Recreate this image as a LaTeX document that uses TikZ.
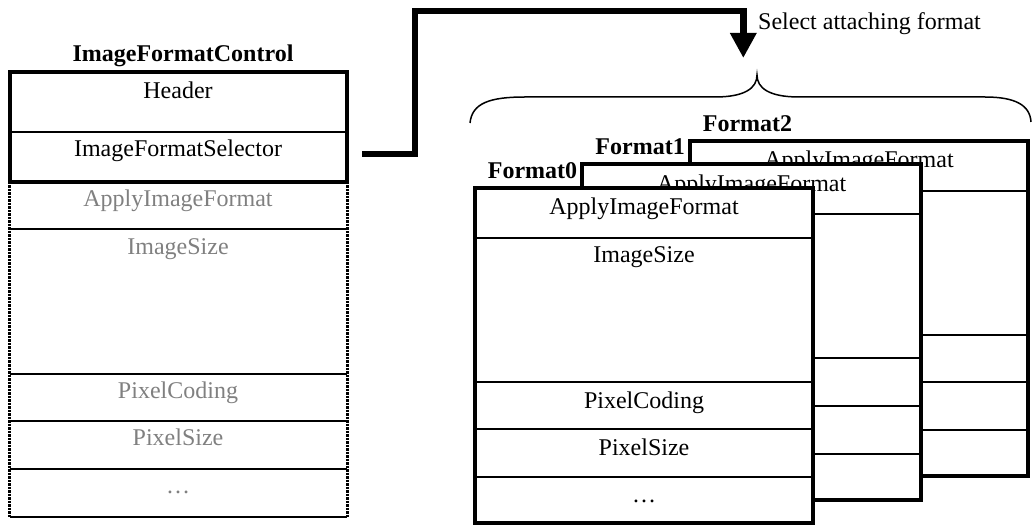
\documentclass[tikz,border=0pt]{standalone}
\usepackage{fontspec}
\setmainfont{Liberation Serif}
\usetikzlibrary{arrows.meta}
\definecolor{txtgray}{RGB}{128,128,128}
\newcommand\fmtbox[3]{%
\begin{scope}[shift={(#1,#2)}]
  \fill[white] (474.7,188) rectangle (813.3,523);
  \foreach \yy in {238,382,429,477} \draw[divider] (474.7,\yy) -- (813.3,\yy);
  \draw[outer] (474.7,188) rectangle (813.3,523);
  \node[txt] (#3a) at (644,215) {ApplyImageFormat};
  \node[txt] (#3b) at (644,263) {ImageSize};
  \node[txt] (#3c) at (644,408) {PixelCoding};
  \node[txt] (#3d) at (644,455) {PixelSize};
  \node[txt] (#3e) at (644,502) {…};
  \node[lbl] (#3l) at (532.5,178.5) {#3};
\end{scope}}
\begin{document}
\begin{tikzpicture}[x=1pt,y=-1pt,
  txt/.style={anchor=base,inner sep=0pt,font=\fontsize{24}{28}\selectfont},
  ghost/.style={txt,text=txtgray},
  lbl/.style={anchor=base,inner sep=0pt,font=\fontsize{24}{28}\selectfont\bfseries},
  outer/.style={line width=4pt},
  divider/.style={line width=2pt},
  dashside/.style={line width=3pt,dash pattern=on 2.5pt off 1pt},
  conn/.style={line width=6.5pt},
  bracestyle/.style={line width=1.5pt}]
\useasboundingbox (0,0) rectangle (1033,526);

% left box
\node[lbl] (ifc) at (183,62) {ImageFormatControl};
\draw[divider] (9.5,132) -- (347,132);
\draw[outer] (9.5,72) rectangle (347,182);
\node[txt] (hdr) at (178,99) {Header};
\node[txt] (sel) at (178,157) {ImageFormatSelector};
\foreach \yy in {229,374,421,469} \draw[divider] (9.5,\yy) -- (347,\yy);
\draw[line width=2.5pt] (9.5,517) -- (347,517);
\draw[dashside] (9.5,182) -- (9.5,517);
\draw[dashside] (347,182) -- (347,517);
\node[ghost] (gapp) at (178,207) {ApplyImageFormat};
\node[ghost] (gsize) at (178,255) {ImageSize};
\node[ghost] (gcod) at (178,398) {PixelCoding};
\node[ghost] (gpix) at (178,445) {PixelSize};
\node[ghost] (gdots) at (178,493) {…};

% format boxes
\fmtbox{215}{-47}{Format2}
\fmtbox{107.6}{-23.5}{Format1}
\fmtbox{0}{0}{Format0}

% brace
\draw[bracestyle] (470,123) .. controls (472,103) and (490,97) .. (525,97) -- (715,97)
  .. controls (745,97) and (757,88) .. (757,75)
  .. controls (757,88) and (769,97) .. (799,97) -- (985,97)
  .. controls (1015,97) and (1030,105) .. (1031,122);

% connector
\coordinate (cs) at (362,154);
\coordinate (ce) at (743.3,58);
\draw[conn,-{Triangle[width=25pt,length=25pt]}] (cs) -- (415,154) -- (415,11) -- (743.3,11) -- (ce);
\node[txt,anchor=base west] (selfmt) at (758,29.5) {Select attaching format};
\end{tikzpicture}
\end{document}
